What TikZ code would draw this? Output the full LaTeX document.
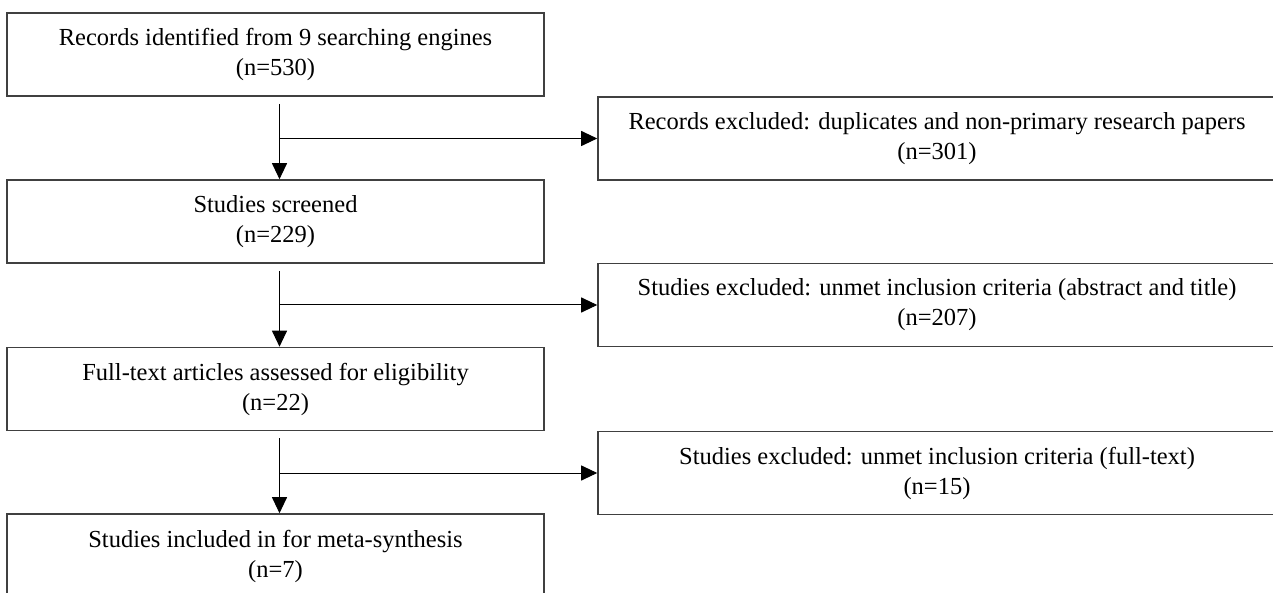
\documentclass[tikz,border=0pt]{standalone}
\usepackage{fontspec}
\setmainfont{Liberation Serif}
\usepackage{tikz}
\usetikzlibrary{positioning, arrows.meta, calc}

\newcommand{\flowfont}{\fontsize{24.5}{30}\selectfont}

\begin{document}
\begin{tikzpicture}[x=1pt, y=-1pt, >={Triangle[length=16pt, width=15pt]}, line width=1pt,
  stage/.style={draw=black!75, line width=1.6pt, minimum width=537pt, minimum height=83pt, inner sep=0pt, align=center, font=\flowfont},
  excluded/.style={stage, minimum width=678pt}]
  \useasboundingbox (0,0) rectangle (1273,593);
  \node[stage] (rec) at (275.5, 54.5) {Records identified from 9 searching engines\\(n=530)};
  \node[stage] (scr) at (275.5, 221.5) {Studies screened\\(n=229)};
  \node[stage] (full) at (275.5, 389) {Full-text articles assessed for eligibility\\(n=22)};
  \node[stage, minimum height=84pt] (incl) at (275.5, 556) {Studies included in for meta-synthesis\\(n=7)};
  \node[excluded] (recx) at (937, 138.5) {Records excluded: duplicates and non-primary research papers\\(n=301)};
  \node[excluded] (scrx) at (937, 305) {Studies excluded: unmet inclusion criteria (abstract and title)\\(n=207)};
  \node[excluded] (fullx) at (937, 473) {Studies excluded: unmet inclusion criteria (full-text)\\(n=15)};
  % trunk lines start a little below each box
  \coordinate (t1) at ($(rec.south)+(4,7)$);
  \coordinate (t2) at ($(scr.south)+(4,7)$);
  \coordinate (t3) at ($(full.south)+(4,7)$);
  \draw[->] (t1) -- (t1 |- scr.north);
  \draw[->] (t1 |- recx.west) -- (recx.west);
  \draw[->] (t2) -- (t2 |- full.north);
  \draw[->] (t2 |- scrx.west) -- (scrx.west);
  \draw[->] (t3) -- (t3 |- incl.north);
  \draw[->] (t3 |- fullx.west) -- (fullx.west);
\end{tikzpicture}
\end{document}
